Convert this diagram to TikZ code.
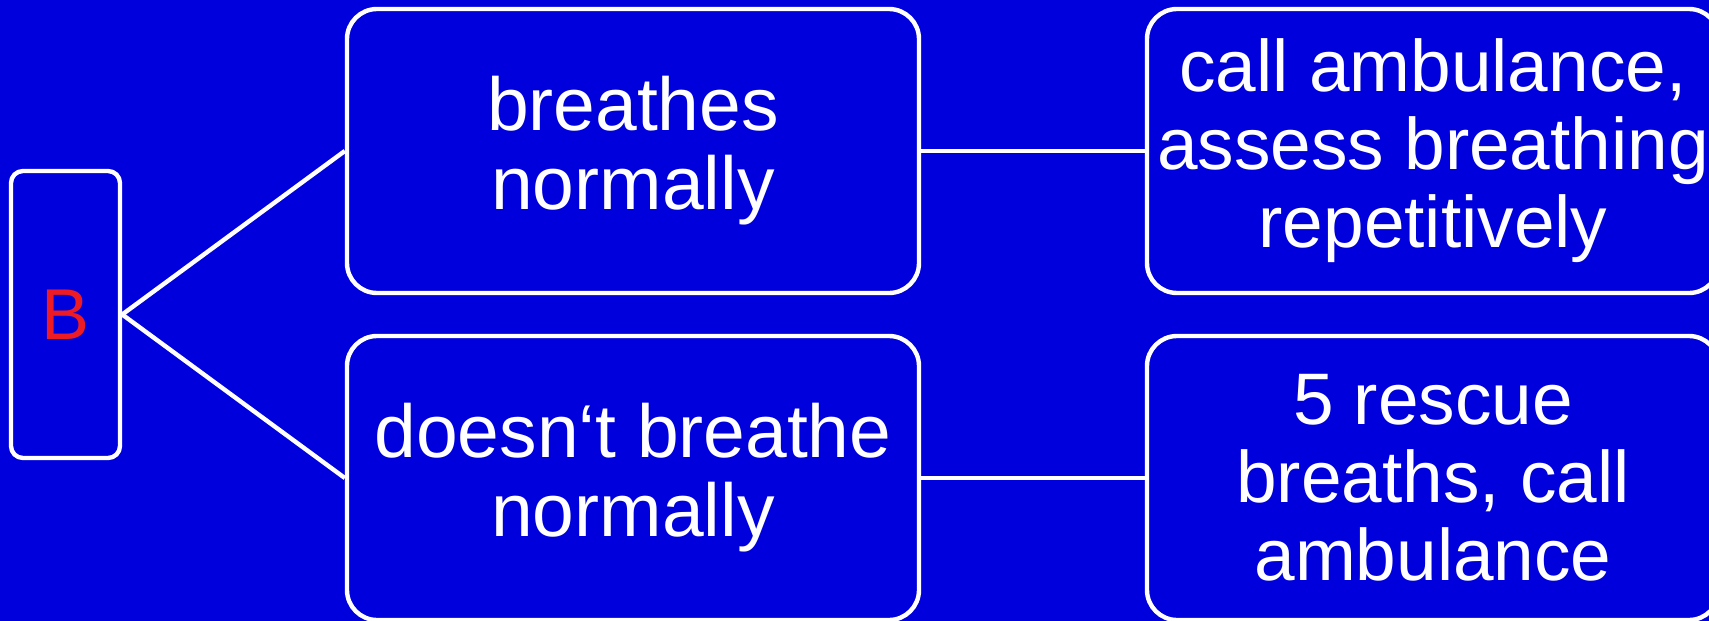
\documentclass[tikz,border=0pt]{standalone}
\usepackage{fontspec}
\setmainfont{Liberation Sans}
\definecolor{bgblue}{RGB}{0,0,220}
\definecolor{letterred}{RGB}{237,28,36}
\begin{document}
\begin{tikzpicture}[x=0.5pt,y=-0.5pt,
  box/.style={draw=white, line width=2.2pt, fill=bgblue, rounded corners=15pt,
    minimum width=286pt, minimum height=142pt, align=center, text=white,
    font=\fontsize{37.5}{39.5}\selectfont, inner sep=0pt},
  actbox/.style={box, font=\fontsize{36.5}{39}\selectfont},
  keybox/.style={draw=white, line width=2.2pt, fill=bgblue, rounded corners=6pt,
    minimum width=54.5pt, minimum height=143.5pt, inner sep=0pt,
    text=letterred, font=\fontsize{36}{38}\selectfont},
  link/.style={draw=white, line width=2.2pt}]
  \useasboundingbox (0,0) rectangle (1709,621);
  \fill[bgblue] (0,0) rectangle (1709,621);

  \node[keybox] (b) at (65.5,314.5) {B};
  \node[box] (yes) at (633,151) {breathes\\normally};
  \node[box] (no) at (633,478) {doesn‘t breathe\\normally};
  \node[actbox] (yesact) at (1433,151) {call ambulance,\\assess breathing\\repetitively};
  \node[actbox] (noact) at (1433,478) {5 rescue\\breaths, call\\ambulance};

  \draw[link] (b.east) -- (yes.west);
  \draw[link] (b.east) -- (no.west);
  \draw[link] (yes.east) -- (yesact.west);
  \draw[link] (no.east) -- (noact.west);
\end{tikzpicture}
\end{document}
